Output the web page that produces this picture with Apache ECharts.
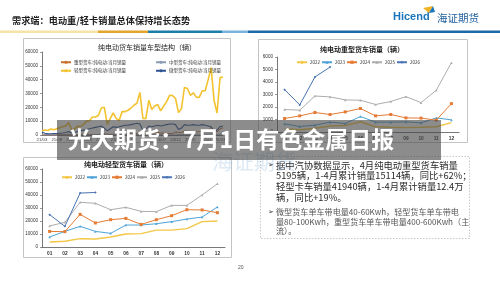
<!DOCTYPE html>
<html>
<head>
<meta charset="utf-8">
<script src="https://cdn.jsdelivr.net/npm/echarts@6/dist/echarts.min.js"></script>
<style>
html,body{margin:0;padding:0;background:#fff;}
#main{width:500px;height:281px;}
</style>
</head>
<body>
<div id="main"></div>
<script>
// 纯电动货车销量车型结构 (monthly, 21/03 - 26/04)
var months = ['21/03','21/04','21/05','21/06','21/07','21/08','21/09','21/10','21/11','21/12',
  '22/01','22/02','22/03','22/04','22/05','22/06','22/07','22/08','22/09','22/10','22/11','22/12',
  '23/01','23/02','23/03','23/04','23/05','23/06','23/07','23/08','23/09','23/10','23/11','23/12',
  '24/01','24/02','24/03','24/04','24/05','24/06','24/07','24/08','24/09','24/10','24/11','24/12',
  '25/01','25/02','25/03','25/04','25/05','25/06','25/07','25/08','25/09','25/10','25/11','25/12',
  '26/01','26/02','26/03','26/04'];
var heavyMonthly = [100,150,200,250,200,300,250,300,400,600,
  250,180,300,480,520,820,420,380,350,380,420,750,
  650,440,550,790,680,1240,790,790,810,730,1130,970,
  1080,1290,1560,1400,1610,1880,1290,1400,1130,1110,950,2270,
  1800,1750,2880,2810,2570,2540,2200,2440,2830,2350,3340,5550,
  3390,2170,4400,5195];
var mediumMonthly = [150,120,100,120,150,130,140,160,200,300,
  100,120,180,150,200,250,220,250,300,350,400,600,
  150,200,250,220,260,300,280,300,320,350,400,500,
  200,250,350,300,350,400,380,400,450,500,550,700,
  300,350,500,450,500,550,500,520,600,650,700,900,
  400,350,600,650];
var lightMonthly = [3000,3600,3300,4300,3800,4600,5200,6100,6600,9000,
  3800,4400,6400,6200,7700,10000,10300,13000,13000,14100,19500,20000,
  7700,12000,15900,12000,10500,16900,16900,17900,19500,21500,23000,30800,
  12000,11800,25100,18500,21000,22000,17400,21000,24100,28700,28500,26400,
  16200,19000,34400,33600,28700,30500,27400,27200,32000,32000,40000,48700,
  24900,15900,41500,41940];
var microMonthly = [2000,1200,800,900,1000,1100,1300,1500,1800,2500,
  1500,1800,2500,3000,3500,4000,4500,5000,5500,6000,6500,5000,
  3000,4500,6000,5500,6000,6500,7000,7000,7500,8000,8500,8000,
  3500,4000,6500,6000,6500,7000,6500,7000,7500,8000,8000,7500,
  4000,5000,7500,7000,7000,7500,7000,7000,7500,7000,6500,6000,
  3000,3500,6000,6500];

// 月份 01-12
var monthNo = ['01','02','03','04','05','06','07','08','09','10','11','12'];
var years = ['2022','2023','2024','2025','2026'];

// 纯电动重型货车销量（辆）
var heavy2022 = [250,180,300,480,520,820,420,380,350,380,420,750];
var heavy2023 = [650,440,550,790,680,1240,790,790,810,730,1130,970];
var heavy2024 = [1080,1290,1560,1400,1610,1880,1290,1400,1130,1110,950,2270];
var heavy2025 = [1800,1750,2880,2810,2570,2540,2200,2440,2830,2350,3340,5550];
var heavy2026 = [3390,2170,4400,5195];

// 纯电动轻型货车销量（辆）
var light2022 = [3800,4400,6400,6200,7700,10000,10300,13000,13000,14100,19500,20000];
var light2023 = [7700,12000,15900,12000,10500,16900,16900,17900,19500,21500,23000,30800];
var light2024 = [12000,11800,25100,18500,21000,22000,17400,21000,24100,28700,28500,26400];
var light2025 = [16200,19000,34400,33600,28700,30500,27400,27200,32000,32000,40000,48700];
var light2026 = [24900,15900,41500,41940];

var FONT = 'Noto Sans CJK SC';
var yearColors = ['#f3c746','#4ea3d6','#e47b35','#adadad','#4a74b4'];
var yearSymbols = ['none','triangle','rect','triangle','diamond'];

var myChart = echarts.init(document.getElementById('main'), null, {renderer: 'canvas'});

function plainLabel(v) { return String(v); }

function valueAxis(grid, max, step) {
  return {
    type: 'value', gridIndex: grid, min: 0, max: max, interval: step,
    splitLine: {show: false},
    axisLine: {show: true, lineStyle: {color: '#555', width: 0.8}},
    axisTick: {show: true, length: 2, lineStyle: {color: '#555', width: 0.6}},
    axisLabel: {fontSize: 4.6, color: '#333', margin: 4, formatter: plainLabel, fontFamily: 'Liberation Sans'}
  };
}

function yearSeries(axis, list) {
  return list.map(function (d, i) {
    return {
      name: years[i], type: 'line', xAxisIndex: axis, yAxisIndex: axis,
      data: d, symbol: yearSymbols[i], symbolSize: i === 2 ? 3 : 2.5,
      lineStyle: {width: i === 0 ? 1.4 : 1, color: yearColors[i]},
      itemStyle: {color: yearColors[i]},
      animation: false
    };
  });
}

var legendBase = {
  itemWidth: 10, itemHeight: 4, itemGap: 1,
  textStyle: {fontSize: 4.5, color: '#333', fontFamily: FONT, padding: [0,0,0,-2]}
};

var option = {
  backgroundColor: '#fff',
  animation: false,
  grid: [
    {left: 42, right: 277, top: 52, bottom: 146},
    {left: 277, right: 41, top: 57, bottom: 149},
    {left: 42, right: 275, top: 169, bottom: 34}
  ],
  legend: [
    Object.assign({}, legendBase, {left: 55, top: 55, orient: 'vertical', itemGap: 4,
      data: ['重型货车:纯电动:当月销量', '轻型货车:纯电动:当月销量']}),
    Object.assign({}, legendBase, {left: 150, top: 55, orient: 'vertical', itemGap: 4,
      data: ['中型货车:纯电动:当月销量', '微型货车:纯电动:当月销量']}),
    Object.assign({}, legendBase, {left: 291, top: 55, data: years}),
    Object.assign({}, legendBase, {left: 56, top: 170, data: years})
  ],
  xAxis: [
    {type: 'category', gridIndex: 0, data: months, boundaryGap: false,
      axisLine: {lineStyle: {color: '#555', width: 0.8}},
      axisTick: {show: false},
      axisLabel: {interval: 4, fontSize: 4.3, color: '#444', margin: 3, fontFamily: 'Liberation Sans'}},
    {type: 'category', gridIndex: 1, data: monthNo,
      axisLine: {lineStyle: {color: '#555', width: 0.8}},
      axisTick: {length: 2, lineStyle: {width: 0.6}},
      axisLabel: {fontSize: 4.8, color: '#333', fontWeight: 'bold', margin: 4, fontFamily: 'Liberation Sans'}},
    {type: 'category', gridIndex: 2, data: monthNo,
      axisLine: {lineStyle: {color: '#555', width: 0.8}},
      axisTick: {length: 2, lineStyle: {width: 0.6}},
      axisLabel: {fontSize: 4.8, color: '#333', fontWeight: 'bold', margin: 4, fontFamily: 'Liberation Sans'}}
  ],
  yAxis: [valueAxis(0, 60000, 10000), valueAxis(1, 6000, 1000), valueAxis(2, 60000, 10000)],
  series: [
    {name: '重型货车:纯电动:当月销量', type: 'line', xAxisIndex: 0, yAxisIndex: 0, data: heavyMonthly,
      symbol: 'none', lineStyle: {width: 1, color: '#c8702e'}, itemStyle: {color: '#c8702e'}},
    {name: '中型货车:纯电动:当月销量', type: 'line', xAxisIndex: 0, yAxisIndex: 0, data: mediumMonthly,
      symbol: 'none', lineStyle: {width: 0.8, color: '#8a9bb5'}, itemStyle: {color: '#8a9bb5'}},
    {name: '微型货车:纯电动:当月销量', type: 'line', xAxisIndex: 0, yAxisIndex: 0, data: microMonthly,
      symbol: 'none', lineStyle: {width: 1.1, color: '#2f5496'}, itemStyle: {color: '#2f5496'}},
    {name: '轻型货车:纯电动:当月销量', type: 'line', xAxisIndex: 0, yAxisIndex: 0, data: lightMonthly,
      symbol: 'none', lineStyle: {width: 1.6, color: '#f2c230'}, itemStyle: {color: '#f2c230'}}
  ]
    .concat(yearSeries(1, [heavy2022, heavy2023, heavy2024, heavy2025, heavy2026]))
    .concat(yearSeries(2, [light2022, light2023, light2024, light2025, light2026])),
  graphic: [
    // 标题与页眉线
    {type: 'text', x: 12, y: 21, style: {text: '需求端：电动重/轻卡销量总体保持增长态势', fontSize: 9.2,
      fontWeight: 'bold', fontFamily: FONT, fill: '#222', verticalAlign: 'middle', textVerticalAlign: 'middle'}},
    {type: 'rect', shape: {x: 0, y: 30.5, width: 98, height: 2.5}, style: {fill: '#f6e4a6'}},
    {type: 'rect', shape: {x: 98, y: 30.5, width: 50, height: 2.5}, style: {fill: '#e4a62a'}},
    {type: 'rect', shape: {x: 148, y: 30.5, width: 74, height: 2.5}, style: {fill: '#1b7fa7'}},
    {type: 'rect', shape: {x: 222, y: 30.5, width: 26, height: 2.5}, style: {fill: '#79b3dc'}},
    {type: 'rect', shape: {x: 248, y: 30.5, width: 252, height: 2.5}, style: {fill: '#1e6aa6'}},
    // logo
    {type: 'text', x: 393, y: 17, style: {text: 'Hicend', fontSize: 11, fontWeight: 'bold',
      fontFamily: 'Liberation Sans', fill: '#1b75bb', verticalAlign: 'middle', textVerticalAlign: 'middle'}},
    {type: 'polygon', shape: {points: [[423, 8], [433, 6], [429, 13]]}, style: {fill: '#f0b323'}},
    {type: 'polygon', shape: {points: [[429, 13], [433, 6], [435, 12]]}, style: {fill: '#1b75bb'}},
    {type: 'text', x: 437, y: 18, style: {text: '海证期货', fontSize: 10.5, fontFamily: FONT,
      fill: '#1d5d9b', verticalAlign: 'middle', textVerticalAlign: 'middle'}},
    // 图框
    {type: 'rect', shape: {x: 23.5, y: 38.5, width: 207, height: 104}, style: {fill: 'none', stroke: '#c4c4c4', lineWidth: 1}},
    {type: 'rect', shape: {x: 258.5, y: 39.5, width: 209, height: 103}, style: {fill: 'none', stroke: '#c4c4c4', lineWidth: 1}},
    {type: 'rect', shape: {x: 23.5, y: 157.5, width: 208, height: 100}, style: {fill: 'none', stroke: '#c4c4c4', lineWidth: 1}},
    {type: 'text', x: 147, y: 47, style: {text: '纯电动货车销量车型结构（辆）', fontSize: 7, fontFamily: FONT, fill: '#222',
      align: 'center', textAlign: 'center', verticalAlign: 'middle', textVerticalAlign: 'middle'}},
    {type: 'text', x: 362, y: 49, style: {text: '纯电动重型货车销量（辆）', fontSize: 7, fontWeight: 'bold', fontFamily: FONT, fill: '#222',
      align: 'center', textAlign: 'center', verticalAlign: 'middle', textVerticalAlign: 'middle'}},
    {type: 'text', x: 126, y: 164, style: {text: '纯电动轻型货车销量（辆）', fontSize: 7, fontWeight: 'bold', fontFamily: FONT, fill: '#222',
      align: 'center', textAlign: 'center', verticalAlign: 'middle', textVerticalAlign: 'middle'}},
    // 文字框
    {type: 'rect', shape: {x: 260.5, y: 156.5, width: 209, height: 82}, style: {fill: 'none', stroke: '#b0b0b0', lineWidth: 0.7, lineDash: [1.5, 1.5]}},
    {type: 'text', x: 268, y: 165, style: {text: '➢', fontSize: 7, fontFamily: 'DejaVu Sans', fill: '#222',
      verticalAlign: 'middle', textVerticalAlign: 'middle'}},
    {type: 'text', x: 276, y: 160, style: {text: '据中汽协数据显示，4月纯电动重型货车销量\n5195辆，1-4月累计销量15114辆，同比+62%；\n轻型卡车销量41940辆，1-4月累计销量12.4万\n辆，同比+19%。',
      fontSize: 9.3, lineHeight: 10.6, fontFamily: FONT, fill: '#2a2a2a'}},
    {type: 'text', x: 268, y: 212, style: {text: '➢', fontSize: 7, fontFamily: 'DejaVu Sans', fill: '#333',
      verticalAlign: 'middle', textVerticalAlign: 'middle'}},
    {type: 'text', x: 276, y: 207.5, style: {text: '微型货车单车带电量40-60Kwh，轻型货车单车带电\n量80-100Kwh，重型货车单车带电量400-600Kwh（主\n流）。',
      fontSize: 8.1, lineHeight: 9.3, fontFamily: FONT, fill: '#555'}},
    // 水印
    {type: 'text', x: 212, y: 161, z: 50, style: {text: '海证期货', fontSize: 21, fontFamily: FONT,
      fill: 'rgba(120,170,215,0.25)', verticalAlign: 'middle', textVerticalAlign: 'middle'}},
    // 横幅
    {type: 'rect', z: 100, shape: {x: 57, y: 120, width: 384, height: 40}, style: {fill: 'rgba(70,70,70,0.62)'}},
    {type: 'text', z: 101, x: 68, y: 139, style: {text: '光大期货：7月1日有色金属日报', fontSize: 23, fontWeight: 'bold',
      fontFamily: FONT, fill: '#fff', verticalAlign: 'middle', textVerticalAlign: 'middle'}},
    // 页码
    {type: 'text', x: 238, y: 268, style: {text: '20', fontSize: 5, fontFamily: 'Liberation Sans', fill: '#555',
      verticalAlign: 'middle', textVerticalAlign: 'middle'}}
  ]
};

if (option && typeof option === 'object') {
  myChart.setOption(option);
}
</script>
</body>
</html>
